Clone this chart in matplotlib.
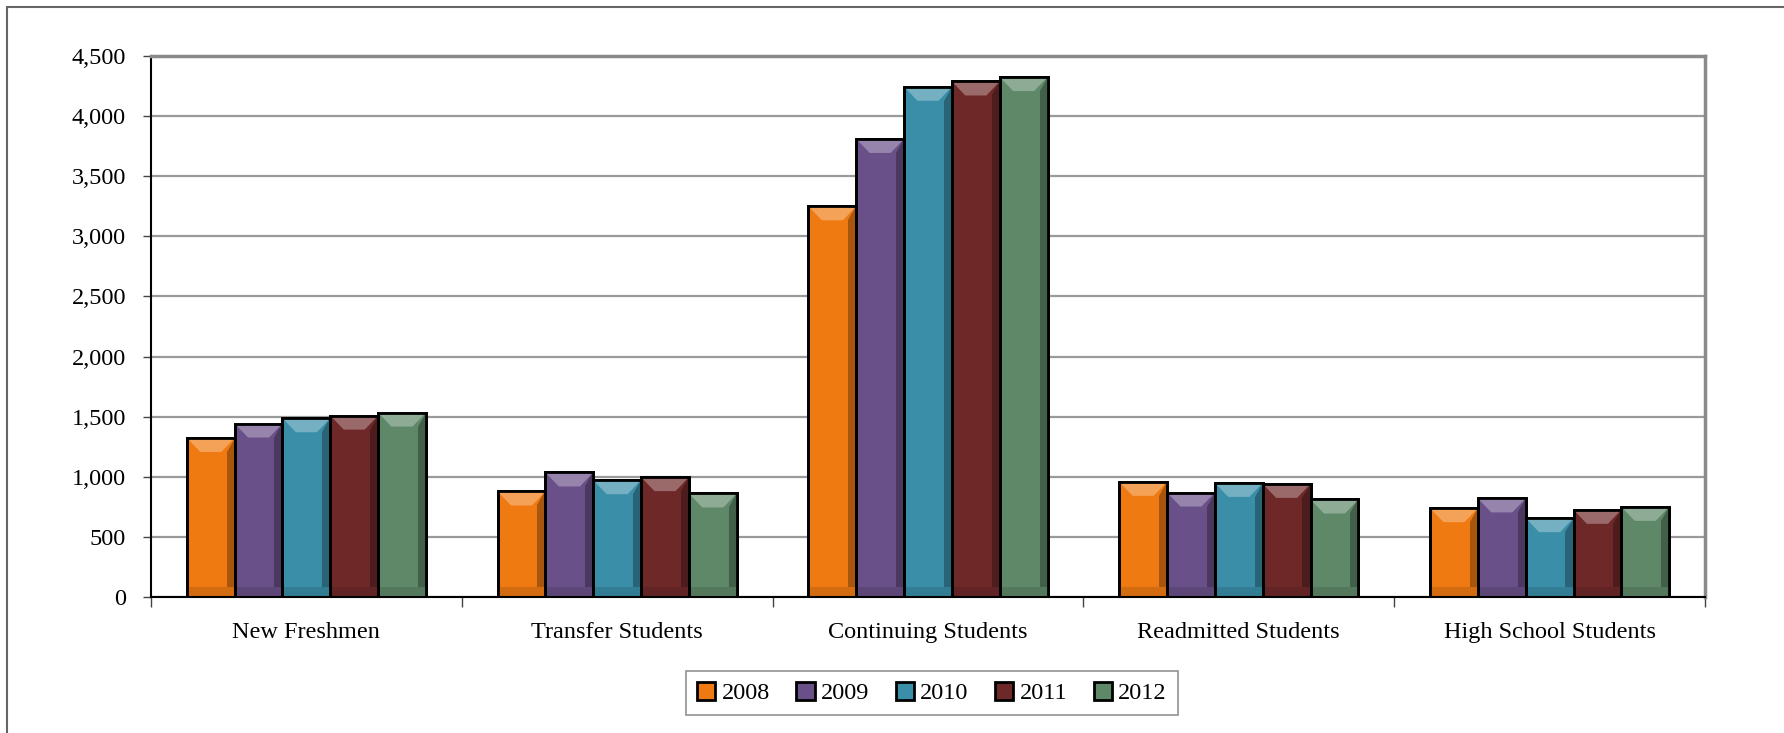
import numpy as np
import matplotlib
matplotlib.use('Agg')
import matplotlib.pyplot as plt
from matplotlib.patches import Rectangle, Polygon
from matplotlib.colors import to_rgb

categories = ['New Freshmen', 'Transfer Students', 'Continuing Students',
              'Readmitted Students', 'High School Students']
years = ['2008', '2009', '2010', '2011', '2012']
values_2008 = [1323, 878, 3250, 958, 739]
values_2009 = [1443, 1036, 3810, 869, 820]
values_2010 = [1487, 972, 4244, 949, 656]
values_2011 = [1509, 997, 4288, 941, 725]
values_2012 = [1534, 861, 4325, 811, 750]
y_ticks = [0, 500, 1000, 1500, 2000, 2500, 3000, 3500, 4000, 4500]

series = [values_2008, values_2009, values_2010, values_2011, values_2012]
colors = ['#F07A12', '#6A5088', '#3A8EA8', '#6E2828', '#5E8868']


def shade(col, f):
    # f > 0 lightens, f < 0 darkens
    r = np.array(to_rgb(col))
    if f > 0:
        return tuple(r + (1 - r) * f)
    return tuple(r * (1 + f))


plt.rcParams['font.family'] = ['Liberation Serif', 'DejaVu Serif']

fig = plt.figure(figsize=(17.84, 7.33), dpi=100)
ax = fig.add_axes([151 / 1784, 1 - 597 / 733, (1705 - 151) / 1784, (597 - 56) / 733])

# outer chart frame (only top and left edges are visible in the original)
fig.patches.append(Rectangle((7 / 1784, -0.1), 1.2, 1 - 7 / 733 + 0.1,
                             transform=fig.transFigure, fill=False,
                             edgecolor='#666666', lw=1.5))

n = len(years)
width = 1 / (n + 1.5)
x = np.arange(len(categories))
ymax = 4500
bevel_y = ymax * 14 / 541      # ~14 px in data units
bevel_x = width * 0.28
for i, (vals, col, yr) in enumerate(zip(series, colors, years)):
    pos = x - width * (n - 1) / 2 + i * width
    bars = ax.bar(pos, vals, width, color=col, edgecolor='black', linewidth=2.0,
                  label=yr, zorder=3)
    # bevel: light top face, dark right side, darker bottom strip
    for b in bars:
        x0, w, h = b.get_x(), b.get_width(), b.get_height()
        ax.add_patch(Polygon([(x0, h), (x0 + w, h), (x0 + w - bevel_x, h - bevel_y),
                              (x0 + bevel_x, h - bevel_y)], closed=True,
                             facecolor=shade(col, 0.3), edgecolor='none', zorder=4))
        ax.add_patch(Polygon([(x0 + w, h), (x0 + w, 0), (x0 + w - bevel_x * 0.6, 0),
                              (x0 + w - bevel_x * 0.6, h - bevel_y)], closed=True,
                             facecolor=shade(col, -0.3), edgecolor='none', zorder=4))
        ax.add_patch(Polygon([(x0, 0), (x0 + w, 0), (x0 + w, bevel_y * 0.7),
                              (x0, bevel_y * 0.7)], closed=True,
                             facecolor=shade(col, -0.12), edgecolor='none', zorder=4))
        ax.add_patch(Rectangle((x0, 0), w, h, fill=False, edgecolor='black',
                               lw=2.0, zorder=5))

ax.set_xlim(-0.5, len(categories) - 0.5)
ax.set_ylim(0, ymax)
ax.set_yticks(y_ticks)
ax.set_yticklabels([f'{v:,}' for v in y_ticks], fontsize=17.5)
ax.set_xticks(x)
ax.set_xticklabels(categories, fontsize=17.5)
ax.tick_params(axis='x', length=0, pad=18)
ax.set_xticks(np.arange(len(categories) + 1) - 0.5, minor=True)
ax.tick_params(axis='x', which='minor', length=7, width=1, color='#444444')
ax.tick_params(axis='y', length=6, width=1, color='#444444', pad=12)

ax.grid(axis='y', color='#9a9a9a', lw=1.6, zorder=0)
ax.set_axisbelow(True)
for side in ['top', 'right']:
    ax.spines[side].set_color('#8a8a8a')
    ax.spines[side].set_linewidth(2.5)
ax.spines['left'].set_color('black')
ax.spines['bottom'].set_color('black')
ax.spines['left'].set_linewidth(1.5)
ax.spines['bottom'].set_linewidth(1.5)
ax.spines['bottom'].set_zorder(6)

leg = fig.legend(loc='center', bbox_to_anchor=(932 / 1784, 1 - 693 / 733),
                 ncol=5, fontsize=17.5, frameon=True, fancybox=False,
                 handlelength=0.75, handleheight=0.75, handletextpad=0.25,
                 columnspacing=1.1, borderpad=0.45)
leg.get_frame().set_edgecolor('#777777')
leg.get_frame().set_linewidth(1.2)

fig.savefig('out.png', dpi=100)
